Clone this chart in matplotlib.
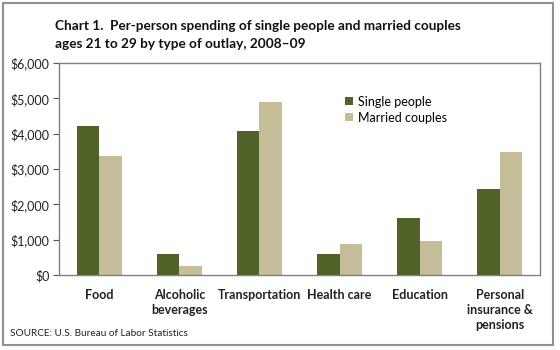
import matplotlib
matplotlib.use("Agg")
import matplotlib.pyplot as plt
import matplotlib.ticker as mticker
from matplotlib.patches import Rectangle
import numpy as np

##-----------------------------
## data
##-----------------------------
categories = ["Food", "Alcoholic\nbeverages", "Transportation", "Health care",
              "Education", "Personal\ninsurance &\npensions"]
single_people = [4210, 600, 4070, 585, 1620, 2425]
married_couples = [3380, 255, 4900, 870, 970, 3490]
yticks = [0, 1000, 2000, 3000, 4000, 5000, 6000]

plt.rcParams['font.family'] = ['Lato', 'DejaVu Sans']

green = "#4F6228"
tan = "#C4BD97"

##-----------------------------
## plot
##-----------------------------
fig = plt.figure(figsize=(5.6, 3.5), dpi=100)
ax = fig.add_axes([59/560, 1 - 275/350, (540 - 59)/560, (275 - 63)/350])

x = np.arange(len(categories))
w = 0.28
ax.bar(x - w/2, single_people, w, color=green, label="Single people")
ax.bar(x + w/2, married_couples, w, color=tan, label="Married couples")

ax.set_xlim(-0.5, len(categories) - 0.5)
ax.set_ylim(0, 6000)
ax.set_yticks(yticks)
ax.yaxis.set_major_formatter(mticker.FuncFormatter(lambda v, p: "${:,.0f}".format(v)))
ax.tick_params(axis='y', length=4, width=0.8, color="#555555", labelsize=9,
               labelcolor="#222222", pad=3)
ax.set_xticks(x)
ax.set_xticklabels(categories, fontweight="bold", fontsize=9, color="#222222",
                   linespacing=1.3, va="top")
ax.tick_params(axis='x', length=0, pad=10)

for s in ax.spines.values():
    s.set_color("#808080")
    s.set_linewidth(1.0)

leg = ax.legend(loc="center left", bbox_to_anchor=(0.595, 0.78), frameon=False,
                fontsize=9, handlelength=0.6, handleheight=0.6,
                handletextpad=0.4, labelspacing=0.3, borderpad=0,
                borderaxespad=0)

## title and source
fig.text(55/560, 1 - 35/350, "Chart 1.  Per-person spending of single people and married couples\nages 21 to 29 by type of outlay, 2008\u201309",
         fontsize=9.8, fontweight="bold", color="#111111", va="center",
         ha="left", linespacing=1.5)
fig.text(10/560, 1 - 333/350, "SOURCE: U.S. Bureau of Labor Statistics",
         fontsize=7.2, color="#222222", va="center", ha="left")

## outer border
fig.patches.append(Rectangle((3/560, 5/350), 550/560, 342/350, transform=fig.transFigure,
                             fill=False, edgecolor="#909090", linewidth=1.5))

plt.savefig("out.png", dpi=100)
